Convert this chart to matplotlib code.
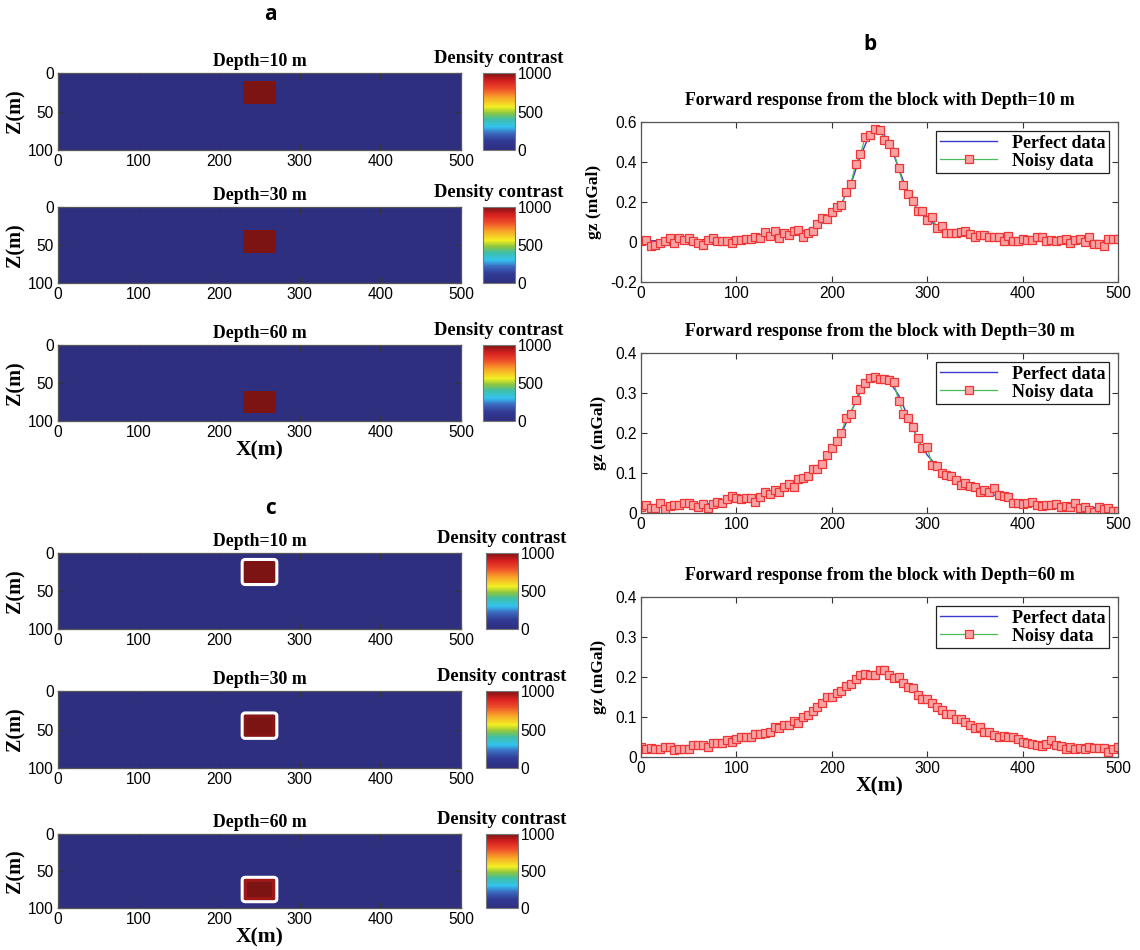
import numpy as np
import matplotlib.pyplot as plt
from matplotlib.colors import LinearSegmentedColormap
from matplotlib.patches import FancyBboxPatch

plt.switch_backend('AGG')
plt.rcParams['font.family'] = 'Liberation Sans'

# stations along the profile (m)
x_obs = np.arange(0, 505, 5)
x_perfect = np.arange(0, 510, 10)

depths = [10, 30, 60]

# noisy gz (mGal), one value every 5 m
noisy_10 = [0.007, 0.01, -0.018, -0.013, -0.007, 0.003, 0.018, -0.005, 0.018, 0.01,
            0.018, 0.007, -0.005, -0.017, 0.012, 0.018, 0.003, 0.003, 0.007, -0.005,
            0.008, 0.012, 0.015, 0.015, 0.027, 0.02, 0.05, 0.028, 0.057, 0.02,
            0.043, 0.037, 0.053, 0.062, 0.025, 0.043, 0.053, 0.09, 0.12, 0.115,
            0.15, 0.175, 0.185, 0.25, 0.292, 0.39, 0.44, 0.523, 0.537, 0.567,
            0.562, 0.512, 0.49, 0.448, 0.37, 0.283, 0.238, 0.203, 0.153, 0.153,
            0.108, 0.125, 0.07, 0.08, 0.045, 0.045, 0.043, 0.052, 0.053, 0.04,
            0.025, 0.037, 0.037, 0.025, 0.027, 0.027, 0.003, 0.028, 0.003, 0.003,
            0.015, 0.008, 0.01, 0.023, 0.027, 0.003, 0.012, 0.003, 0.012, 0.015,
            -0.005, 0.012, 0.017, 0.0, 0.023, -0.008, -0.008, -0.02, 0.015, 0.015,
            0.015]
noisy_30 = [0.015, 0.02, 0.013, 0.013, 0.024, 0.01, 0.017, 0.021, 0.019, 0.025,
            0.025, 0.021, 0.014, 0.023, 0.013, 0.023, 0.028, 0.025, 0.034, 0.043,
            0.037, 0.036, 0.038, 0.038, 0.028, 0.039, 0.053, 0.048, 0.057, 0.052,
            0.064, 0.073, 0.065, 0.085, 0.088, 0.092, 0.11, 0.11, 0.122, 0.145,
            0.163, 0.181, 0.2, 0.238, 0.248, 0.283, 0.31, 0.324, 0.337, 0.34,
            0.334, 0.335, 0.333, 0.328, 0.28, 0.248, 0.237, 0.214, 0.187, 0.162,
            0.166, 0.12, 0.118, 0.101, 0.095, 0.092, 0.083, 0.071, 0.074, 0.068,
            0.064, 0.052, 0.057, 0.052, 0.062, 0.046, 0.042, 0.039, 0.024, 0.025,
            0.022, 0.024, 0.028, 0.02, 0.017, 0.019, 0.019, 0.022, 0.014, 0.018,
            0.016, 0.024, 0.013, 0.015, 0.008, 0.003, 0.015, 0.011, 0.013, 0.004,
            0.006]
noisy_60 = [0.026, 0.019, 0.023, 0.019, 0.019, 0.025, 0.025, 0.018, 0.019, 0.021,
            0.021, 0.029, 0.029, 0.03, 0.026, 0.036, 0.036, 0.036, 0.043, 0.038,
            0.045, 0.049, 0.051, 0.051, 0.057, 0.057, 0.059, 0.062, 0.074, 0.072,
            0.08, 0.08, 0.089, 0.085, 0.1, 0.106, 0.114, 0.125, 0.134, 0.151,
            0.151, 0.161, 0.165, 0.178, 0.182, 0.195, 0.206, 0.208, 0.206, 0.206,
            0.218, 0.218, 0.206, 0.197, 0.199, 0.184, 0.176, 0.173, 0.155, 0.146,
            0.146, 0.135, 0.125, 0.118, 0.108, 0.108, 0.096, 0.096, 0.087, 0.079,
            0.072, 0.074, 0.063, 0.062, 0.056, 0.049, 0.053, 0.051, 0.049, 0.045,
            0.038, 0.036, 0.032, 0.03, 0.028, 0.033, 0.042, 0.03, 0.027, 0.02,
            0.024, 0.019, 0.023, 0.02, 0.024, 0.022, 0.022, 0.022, 0.012, 0.02,
            0.025]

# noise free response (mGal), one value every 10 m
perfect_10 = [0.005, 0.006, 0.007, 0.008, 0.009, 0.01, 0.011, 0.012, 0.013, 0.015,
              0.017, 0.019, 0.022, 0.026, 0.03, 0.036, 0.044, 0.055, 0.07, 0.095,
              0.135, 0.19, 0.29, 0.43, 0.54, 0.57, 0.5, 0.37, 0.24, 0.16,
              0.115, 0.082, 0.062, 0.048, 0.038, 0.031, 0.026, 0.022, 0.019, 0.017,
              0.015, 0.013, 0.012, 0.011, 0.01, 0.009, 0.008, 0.007, 0.007, 0.006,
              0.005]
perfect_30 = [0.012, 0.013, 0.015, 0.016, 0.018, 0.02, 0.021, 0.023, 0.026, 0.029,
              0.032, 0.036, 0.041, 0.046, 0.053, 0.061, 0.072, 0.085, 0.102, 0.124,
              0.155, 0.198, 0.252, 0.303, 0.333, 0.34, 0.33, 0.295, 0.24, 0.185,
              0.145, 0.118, 0.097, 0.082, 0.07, 0.06, 0.052, 0.045, 0.039, 0.034,
              0.03, 0.026, 0.023, 0.021, 0.019, 0.017, 0.015, 0.014, 0.013, 0.012,
              0.011]
perfect_60 = [0.022, 0.022, 0.023, 0.024, 0.025, 0.026, 0.028, 0.03, 0.033, 0.037,
              0.041, 0.046, 0.052, 0.059, 0.067, 0.077, 0.089, 0.103, 0.119, 0.137,
              0.155, 0.173, 0.19, 0.203, 0.211, 0.214, 0.211, 0.2, 0.184, 0.165,
              0.147, 0.127, 0.11, 0.095, 0.082, 0.071, 0.062, 0.054, 0.047, 0.042,
              0.038, 0.034, 0.031, 0.029, 0.027, 0.025, 0.024, 0.023, 0.022, 0.021,
              0.021]

noisy = [noisy_10, noisy_30, noisy_60]
perfect = [perfect_10, perfect_30, perfect_60]
ylims = [(-0.2, 0.6), (0, 0.4), (0, 0.4)]
yticks = [[-0.2, 0, 0.2, 0.4, 0.6], [0, 0.1, 0.2, 0.3, 0.4], [0, 0.1, 0.2, 0.3, 0.4]]
ytick_labels = [['-0.2', '0', '0.2', '0.4', '0.6'], ['0', '0.1', '0.2', '0.3', '0.4'],
                ['0', '0.1', '0.2', '0.3', '0.4']]

# block model
block_x = (230, 270)
block_h = 30
block_rho = 1000
rim_rho = [1000, 985, 960]   # recovered edge cells (panel c)
cell = 5

W, H = 1140, 950
serif = 'Liberation Serif'

cmap = LinearSegmentedColormap.from_list('dens', [
    (0.0, '#2f2f80'), (0.12, '#303a95'), (0.22, '#3b6cc0'), (0.3, '#33c3ef'),
    (0.4, '#3fbfa8'), (0.48, '#8cc63f'), (0.56, '#f2ef22'), (0.68, '#f8a628'),
    (0.8, '#ee4a2a'), (0.9, '#d61f1f'), (1.0, '#7c1414')])


def px_axes(fig, left, top, right, bottom):
    return fig.add_axes([left / W, 1 - bottom / H, (right - left) / W, (bottom - top) / H])


def style_box(ax):
    ax.tick_params(direction='in', top=True, right=True, length=4, labelsize=11.2,
                   color='#333333', pad=3)
    for s in ax.spines.values():
        s.set_color('#555555')
        s.set_linewidth(0.9)


def make_model(depth, recovered=False, idx=0):
    nz, nx = 100 // cell, 500 // cell
    m = np.zeros((nz, nx))
    i0, i1 = depth // cell, (depth + block_h) // cell
    j0, j1 = block_x[0] // cell, block_x[1] // cell
    m[i0:i1, j0:j1] = block_rho
    if recovered:
        m[i0:i1, j0:j1] = rim_rho[idx]
        m[i0 + 1:i1 - 1, j0 + 1:j1 - 1] = block_rho
    return m


fig = plt.figure(figsize=(11.4, 9.5), dpi=100)

# panels a and c: density models
a_tops = [(73, 150), (207, 283), (345, 421)]
c_tops = [(553, 629), (691, 768), (834, 908)]
for col, tops, cb_x, recovered in [('a', a_tops, (483, 515), False), ('c', c_tops, (486, 518), True)]:
    for k, (t, b) in enumerate(tops):
        d = depths[k]
        ax = px_axes(fig, 58, t, 461, b)
        im = ax.imshow(make_model(d, recovered, k), cmap=cmap, vmin=0, vmax=1000,
                       extent=[0, 500, 100, 0], aspect='auto', interpolation='nearest')
        if recovered:
            box = FancyBboxPatch((block_x[0], d), block_x[1] - block_x[0], block_h,
                                 boxstyle='round,pad=1.5,rounding_size=4',
                                 fc='none', ec='white', lw=2.2)
            ax.add_patch(box)
        ax.set_xlim(0, 500)
        ax.set_ylim(100, 0)
        ax.set_xticks([0, 100, 200, 300, 400, 500])
        ax.set_yticks([0, 50, 100])
        style_box(ax)
        ax.set_ylabel('Z(m)', family=serif, weight='bold', fontsize=14.5, labelpad=2)
        ax.set_title('Depth=%d m' % d, family=serif, weight='bold', fontsize=12.8, pad=5)
        if k == 2:
            ax.set_xlabel('X(m)', family=serif, weight='bold', fontsize=15.5, labelpad=0)

        cax = px_axes(fig, cb_x[0], t, cb_x[1], b)
        cb = fig.colorbar(im, cax=cax, ticks=[0, 500, 1000])
        cb.outline.set_edgecolor('#777777')
        cax.tick_params(labelsize=11.2, length=0, pad=2)
        cax.set_title('Density contrast', family=serif, weight='bold', fontsize=13.3, pad=7)

# panel b: forward responses
b_tops = [(122, 282), (353, 513), (597, 757)]
for k, (t, b) in enumerate(b_tops):
    ax = px_axes(fig, 641, t, 1118, b)
    ax.plot(x_perfect, perfect[k], color='#3a3ad0', lw=1.0, label='Perfect data')
    ax.plot(x_obs, noisy[k], color='#4cbb5a', lw=0.9, marker='s', ms=5.2,
            mfc='#f7a3a3', mec='#ee3535', mew=0.9, label='Noisy data')
    ax.set_xlim(0, 500)
    ax.set_ylim(*ylims[k])
    ax.set_xticks([0, 100, 200, 300, 400, 500])
    ax.set_yticks(yticks[k])
    ax.set_yticklabels(ytick_labels[k])
    style_box(ax)
    ax.set_ylabel('gz (mGal)', family=serif, weight='bold', fontsize=12.5, labelpad=6)
    ax.set_title('Forward response from the block with Depth=%d m' % depths[k],
                 family=serif, weight='bold', fontsize=12.8, pad=12)
    leg = ax.legend(loc='upper right', prop={'family': serif, 'weight': 'bold', 'size': 13},
                    fancybox=False, edgecolor='#222222', framealpha=1, handlelength=3.2,
                    borderaxespad=0.5, borderpad=0.2, labelspacing=0.05, handletextpad=0.8)
    leg.get_frame().set_linewidth(0.9)
    if k == 2:
        ax.set_xlabel('X(m)', family=serif, weight='bold', fontsize=15.5, labelpad=0)

# panel letters
for letter, (x, y) in [('a', (270, 14)), ('b', (870, 44)), ('c', (270, 509))]:
    fig.text(x / W, 1 - y / H, letter, family='Open Sans', weight='bold', fontsize=15,
             ha='center', va='center')

plt.savefig('out.png', dpi=100)
